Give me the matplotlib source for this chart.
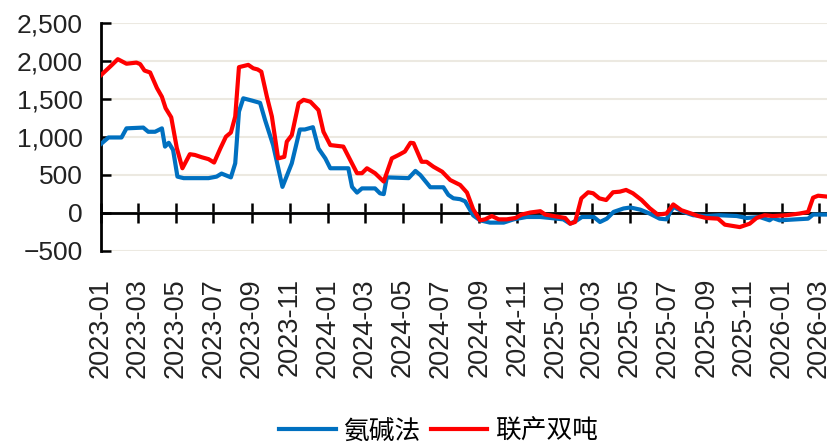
import matplotlib
matplotlib.use("Agg")
import matplotlib.pyplot as plt
import matplotlib.dates as mdates
from matplotlib.ticker import FuncFormatter, MultipleLocator
import pandas as pd

# 氨碱法 (ammonia-soda) profit, key points
blue_dates = [
    "2023-01-01", "2023-01-13", "2023-02-03", "2023-02-11", "2023-03-10", "2023-03-18",
    "2023-03-29", "2023-04-09", "2023-04-14", "2023-04-20", "2023-04-27", "2023-05-04",
    "2023-05-14", "2023-06-23", "2023-07-06", "2023-07-14", "2023-07-29", "2023-08-05",
    "2023-08-11", "2023-08-18", "2023-09-01", "2023-09-14", "2023-09-22", "2023-10-05",
    "2023-10-20", "2023-11-04", "2023-11-17", "2023-11-25", "2023-12-08", "2023-12-17",
    "2023-12-28", "2024-01-05", "2024-02-03", "2024-02-09", "2024-02-17", "2024-02-25",
    "2024-03-17", "2024-03-25", "2024-03-31", "2024-04-05", "2024-05-10", "2024-05-21",
    "2024-05-29", "2024-06-14", "2024-07-05", "2024-07-13", "2024-07-21", "2024-08-01",
    "2024-08-09", "2024-08-22", "2024-09-02", "2024-09-18", "2024-10-10", "2024-10-26",
    "2024-11-16", "2024-12-08", "2024-12-24", "2025-01-14", "2025-01-25", "2025-02-05",
    "2025-02-13", "2025-03-04", "2025-03-14", "2025-03-25", "2025-04-05", "2025-04-21",
    "2025-05-02", "2025-05-18", "2025-06-02", "2025-06-18", "2025-06-29", "2025-07-10",
    "2025-07-26", "2025-08-11", "2025-09-01", "2025-09-22", "2025-10-20", "2025-11-05",
    "2025-11-26", "2025-12-12", "2025-12-17", "2025-12-28", "2026-01-24", "2026-02-12",
    "2026-02-20", "2026-03-16",
]
blue_vals = [
    905, 990, 990, 1110, 1120, 1065,
    1065, 1110, 870, 920, 825, 475,
    455, 455, 475, 515, 465, 650,
    1330, 1505, 1475, 1445, 1220, 890,
    340, 650, 1095, 1095, 1125, 845,
    715, 585, 585, 340, 265, 320,
    320, 255, 245, 465, 455, 550,
    495, 335, 335, 235, 190, 178,
    150, -35, -100, -130, -130, -87,
    -56, -56, -69, -87, -144, -100,
    -56, -56, -122, -78, 11, 56,
    69, 40, -11, -78, -87, 77,
    11, -33, -43, -33, -43, -69,
    -56, -100, -69, -100, -87, -78,
    -24, -24,
]

# 联产双吨 (joint-production, per double ton) profit
red_dates = [
    "2023-01-01", "2023-01-18", "2023-01-28", "2023-02-11", "2023-02-27", "2023-03-05",
    "2023-03-12", "2023-03-21", "2023-04-01", "2023-04-09", "2023-04-15", "2023-04-24",
    "2023-05-03", "2023-05-12", "2023-05-24", "2023-06-01", "2023-06-12", "2023-06-23",
    "2023-07-02", "2023-07-12", "2023-07-21", "2023-07-29", "2023-08-05", "2023-08-11",
    "2023-08-26", "2023-09-03", "2023-09-10", "2023-09-16", "2023-09-25", "2023-10-03",
    "2023-10-13", "2023-10-23", "2023-10-27", "2023-11-04", "2023-11-15", "2023-11-23",
    "2023-12-04", "2023-12-17", "2023-12-25", "2024-01-05", "2024-01-26", "2024-02-17",
    "2024-02-25", "2024-03-04", "2024-03-17", "2024-03-31", "2024-04-13", "2024-04-24",
    "2024-05-04", "2024-05-13", "2024-05-18", "2024-05-31", "2024-06-08", "2024-06-19",
    "2024-07-03", "2024-07-16", "2024-08-01", "2024-08-12", "2024-08-22", "2024-09-02",
    "2024-09-10", "2024-09-21", "2024-10-02", "2024-10-15", "2024-10-29", "2024-11-08",
    "2024-11-22", "2024-12-08", "2024-12-16", "2024-12-29", "2025-01-17", "2025-01-25",
    "2025-02-02", "2025-02-12", "2025-02-23", "2025-03-03", "2025-03-13", "2025-03-24",
    "2025-04-04", "2025-04-15", "2025-04-25", "2025-05-06", "2025-05-20", "2025-06-02",
    "2025-06-15", "2025-06-29", "2025-07-10", "2025-07-23", "2025-08-08", "2025-08-19",
    "2025-09-01", "2025-09-20", "2025-10-01", "2025-10-25", "2025-11-10", "2025-11-21",
    "2025-12-04", "2025-12-17", "2026-01-08", "2026-01-29", "2026-02-12", "2026-02-20",
    "2026-02-28", "2026-03-16",
]
red_vals = [
    1810, 1940, 2020, 1960, 1975, 1955,
    1870, 1845, 1640, 1525, 1375, 1255,
    850, 585, 770, 760, 730, 705,
    660, 845, 1000, 1055, 1265, 1915,
    1945, 1900, 1885, 1855, 1525, 1265,
    715, 735, 935, 1020, 1440, 1485,
    1460, 1350, 1065, 890, 870, 520,
    520, 585, 520, 410, 715, 760,
    805, 920, 915, 670, 670, 605,
    540, 430, 365, 265, 45, -100,
    -87, -43, -87, -87, -69, -24,
    3, 20, -24, -43, -69, -144,
    -122, 189, 269, 256, 189, 167,
    269, 277, 300, 256, 167, 60,
    -24, -11, 109, 33, -11, -43,
    -69, -78, -157, -189, -144, -69,
    -33, -43, -33, -11, 11, 198,
    224, 211,
]

series_names = ["氨碱法", "联产双吨"]
series_colors = ["#0070C0", "#FF0000"]

x_start = "2023-01-01"
x_end = "2026-03-16"

plt.rcParams["font.family"] = ["Liberation Sans", "Noto Sans CJK SC", "DejaVu Sans"]

fig = plt.figure(figsize=(8.28, 4.43), dpi=100)
ax = fig.add_axes([0.122, 0.434, 0.878, 0.5148])

ax.plot(pd.to_datetime(blue_dates), blue_vals, color=series_colors[0], lw=3.0,
        label=series_names[0], solid_joinstyle="round", zorder=3)
ax.plot(pd.to_datetime(red_dates), red_vals, color=series_colors[1], lw=3.0,
        label=series_names[1], solid_joinstyle="round", zorder=4)

ax.set_xlim(pd.Timestamp(x_start), pd.Timestamp(x_end))
ax.set_ylim(-500, 2500)
ax.yaxis.set_major_locator(MultipleLocator(500))
ax.yaxis.set_major_formatter(FuncFormatter(
    lambda v, p: f"{v:,.0f}".replace("-", "\u2212")))
ax.grid(axis="y", color="#ECE9E1", lw=1.5, zorder=0)

# x axis sits on the zero line, labels stay at the bottom
for s in ["top", "right"]:
    ax.spines[s].set_visible(False)
ax.spines["bottom"].set_position(("data", 0))
ax.spines["bottom"].set_linewidth(2)
ax.spines["bottom"].set_zorder(2)
ax.spines["left"].set_linewidth(2)

ax.xaxis.set_major_locator(mdates.MonthLocator(bymonth=[1, 3, 5, 7, 9, 11]))
ax.xaxis.set_major_formatter(mdates.DateFormatter("%Y-%m"))
ax.tick_params(axis="x", direction="inout", length=14, width=1.8,
               labelsize=19.5, labelrotation=90, pad=40, colors="black")
ax.tick_params(axis="y", direction="in", length=7, width=1.8,
               labelsize=19, pad=13)
for lab in ax.get_xticklabels() + ax.get_yticklabels():
    lab.set_color("#222222")

fig.legend(loc="center", bbox_to_anchor=(0.5296, 0.026), ncol=2, frameon=False,
           prop={"family": ["Noto Sans CJK SC"], "size": 18.5},
           handlelength=2.2, handletextpad=0.3, columnspacing=0.4,
           borderaxespad=0)

fig.savefig("out.png", dpi=100)
